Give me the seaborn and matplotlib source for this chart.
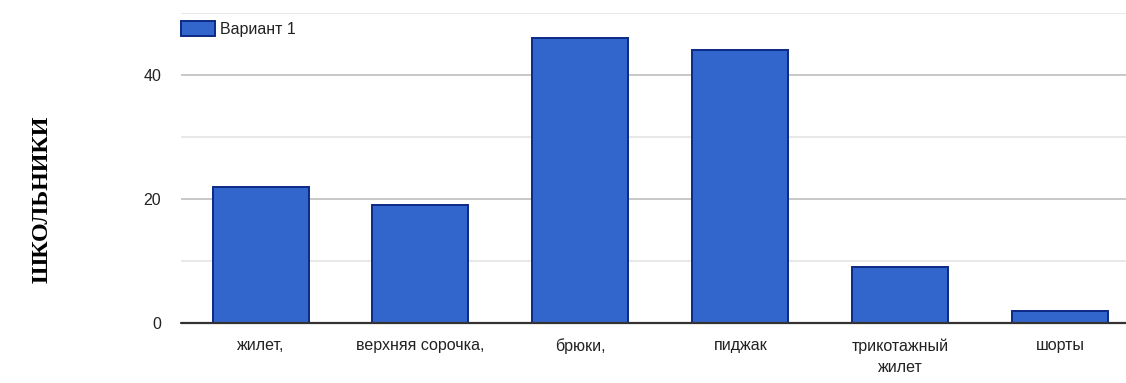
import matplotlib
matplotlib.use("Agg")
import matplotlib.pyplot as plt
import seaborn as sns
import pandas as pd

# Survey data: school uniform items
items = ["жилет,", "верхняя сорочка,", "брюки,", "пиджак", "трикотажный\nжилет", "шорты"]
values = [22, 19, 46, 44, 9, 2]
series_name = "Вариант 1"
y_ticks = [0, 20, 40]
y_minor = [10, 30, 50]

df = pd.DataFrame({"item": items, "value": values, "series": [series_name] * len(items)})

sns.set_theme(style="white")
plt.rcParams["font.family"] = ["Liberation Sans", "DejaVu Sans"]

W, H = 1126, 383
fig = plt.figure(figsize=(W / 100, H / 100), dpi=100)
left = 180.5 / W
bottom = 1 - 323 / H
ax = fig.add_axes([left, bottom, 960 / W, 310 / H])

# gridlines under the bars
for v in y_minor:
    ax.axhline(v, color="#e6e6e6", lw=1.3, zorder=0)
for v in y_ticks[1:]:
    ax.axhline(v, color="#c4c4c4", lw=1.3, zorder=0)

sns.barplot(data=df, x="item", y="value", hue="series", palette=["#3366cc"],
            width=0.6, edgecolor="#0b2a86", linewidth=1.4, saturation=1,
            ax=ax, zorder=2)

ax.axhline(0, color="#333333", lw=1.6, zorder=3, clip_on=False)

ax.set_ylim(0, 50)
ax.set_xlim(-0.5, len(items) - 0.5)
ax.set_yticks(y_ticks)
ax.set_yticklabels([str(t) for t in y_ticks])
ax.set_xlabel("")
ax.set_ylabel("")
for s in ax.spines.values():
    s.set_visible(False)
ax.tick_params(axis="both", length=0, labelsize=11.5, colors="#222222")
ax.tick_params(axis="x", pad=11)
ax.tick_params(axis="y", pad=14)
for lab in ax.get_xticklabels():
    lab.set_linespacing(1.55)

leg = ax.legend(loc="upper left", frameon=False, fontsize=11.5,
                handlelength=2.15, handleheight=1.1, handletextpad=0.35,
                borderaxespad=0.0, borderpad=0.0,
                bbox_to_anchor=(0.0, 0.975))
for t in leg.get_texts():
    t.set_color("#222222")

fig.text(42 / W, 1 - 199 / H, "ШКОЛЬНИКИ", rotation=90, ha="center", va="center",
         fontsize=17.3, fontweight="bold", family=["Liberation Serif", "DejaVu Serif"],
         color="black")

fig.savefig("out.png", dpi=100)
